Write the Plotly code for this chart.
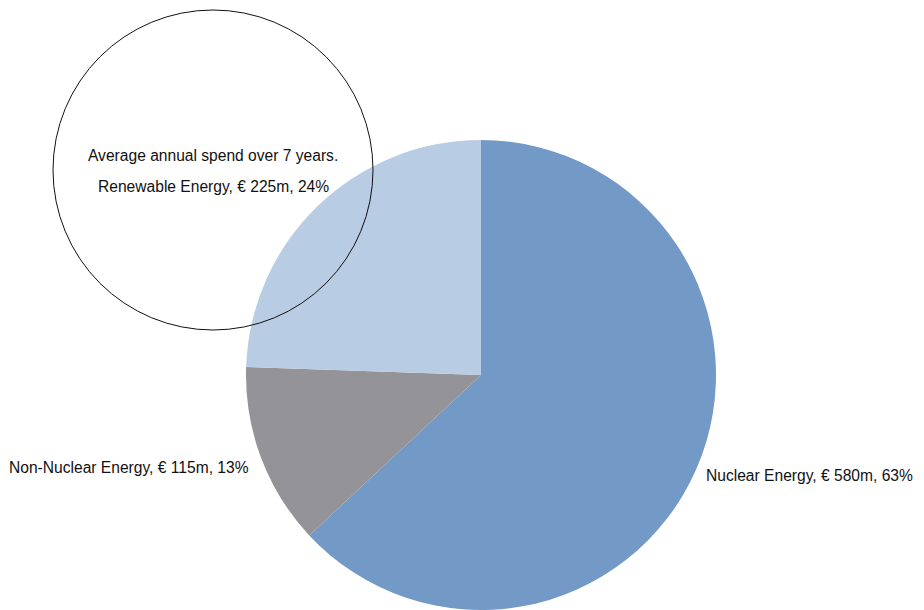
import plotly.graph_objects as go

# Average annual spend over 7 years (EUR million)
categories = ["Nuclear Energy", "Non-Nuclear Energy", "Renewable Energy"]
spend_m = [580, 115, 225]
shares_pct = [63, 13, 24]
colors = ["#7399C6", "#939398", "#B8CCE4"]

W, H = 924, 610
FONT = "Liberation Sans Narrow, Arial Narrow, Liberation Sans, sans-serif"
FONT_SIZE = 15.6

fig = go.Figure(
    go.Pie(
        labels=categories,
        values=spend_m,
        sort=False,
        direction="clockwise",
        rotation=0,
        marker=dict(colors=colors, line=dict(width=0)),
        textinfo="none",
        hoverinfo="skip",
        showlegend=False,
        domain=dict(x=[245 / W, 717 / W], y=[0, 1 - 140 / H]),
    )
)

labels = [f"{c}, € {v}m, {p}%" for c, v, p in zip(categories, spend_m, shares_pct)]

# label positions in pixel space (x, y, anchor)
label_pos = [(704, 475, "left"), (251, 467, "right"), (213, 186, "center")]
for text, (px, py, anchor) in zip(labels, label_pos):
    fig.add_annotation(
        x=px / W, y=1 - py / H, xref="paper", yref="paper",
        text=text, showarrow=False, xanchor=anchor, yanchor="middle",
        font=dict(family=FONT, size=FONT_SIZE, color="#111111"),
    )

fig.add_annotation(
    x=213 / W, y=1 - 156 / H, xref="paper", yref="paper",
    text="Average annual spend over 7 years.", showarrow=False,
    xanchor="center", yanchor="middle",
    font=dict(family=FONT, size=FONT_SIZE, color="#111111"),
)

# outline circle around the title
fig.add_shape(
    type="circle", xref="paper", yref="paper",
    x0=53 / W, x1=373 / W, y0=1 - 330 / H, y1=1 - 10 / H,
    line=dict(color="#111111", width=1), fillcolor="rgba(0,0,0,0)",
    layer="above",
)

fig.update_layout(
    width=W, height=H,
    margin=dict(l=0, r=0, t=0, b=0),
    paper_bgcolor="white", plot_bgcolor="white",
)

fig.write_html("out.html")
